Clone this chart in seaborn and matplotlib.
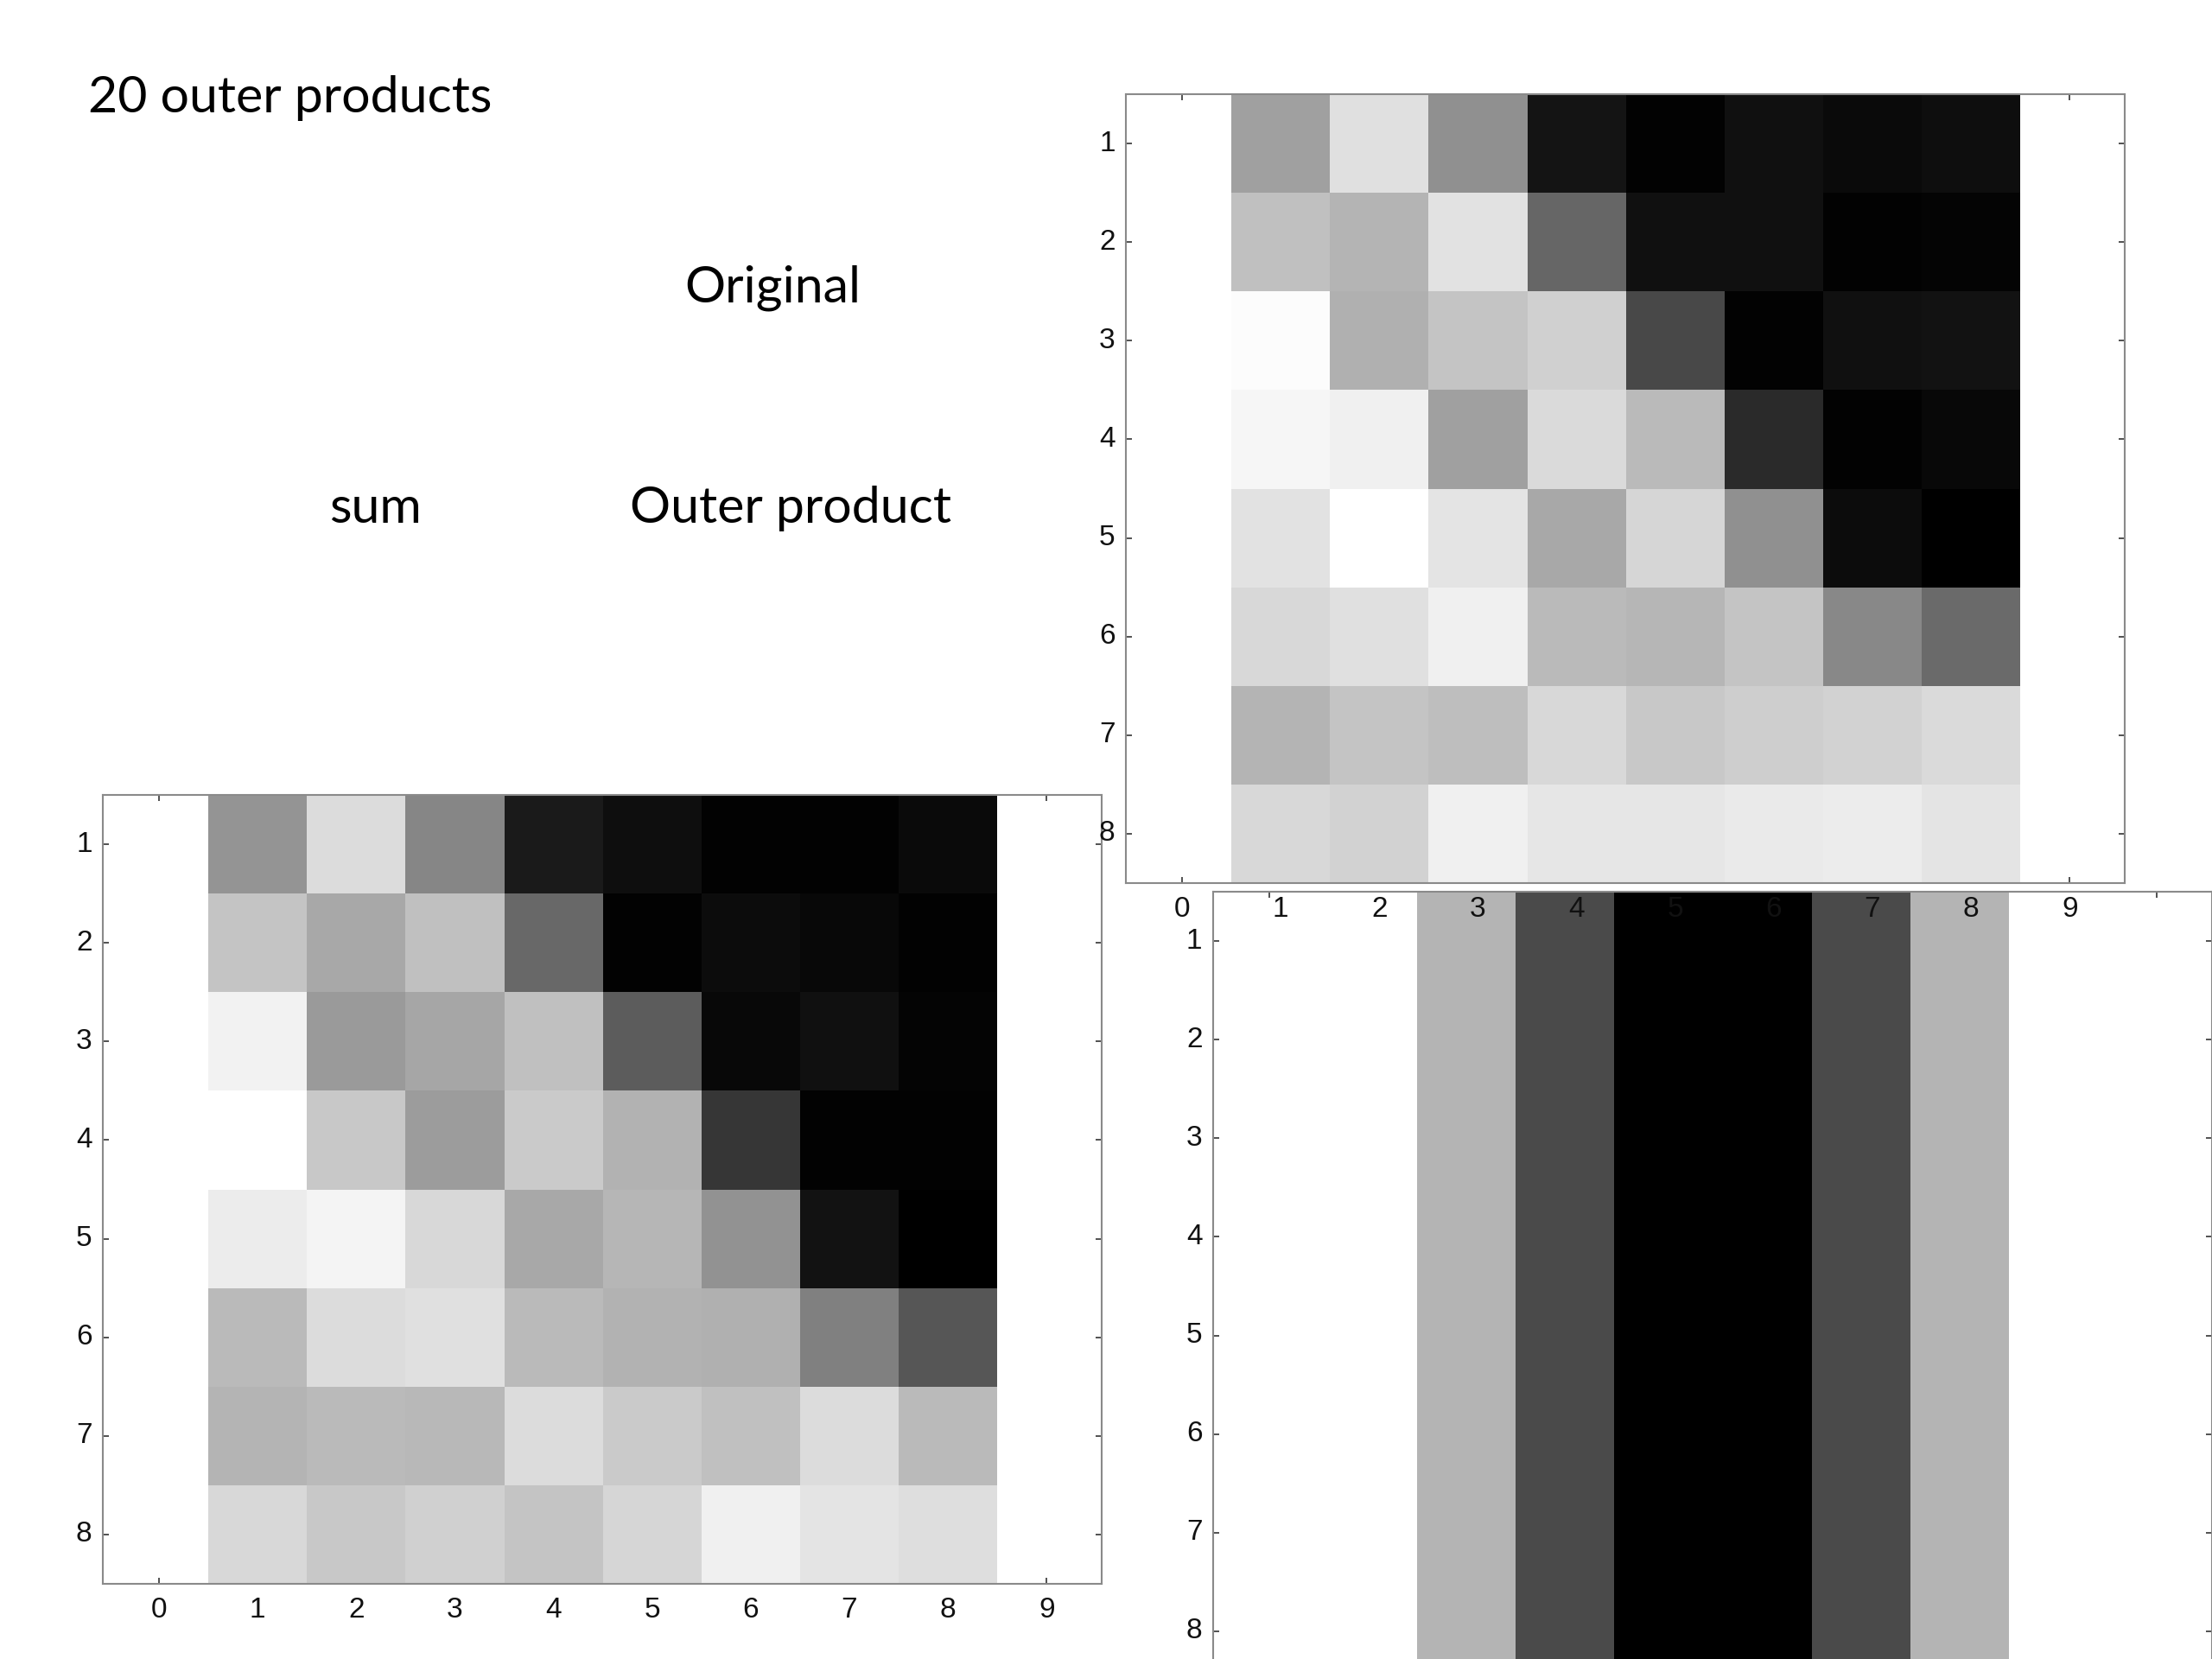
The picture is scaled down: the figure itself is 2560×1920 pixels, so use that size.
import numpy as np
import seaborn as sns
import matplotlib.pyplot as plt

# grey levels (0 = black, 255 = white), rows 1..8, cols 1..8
original = [
    [160, 224, 144, 20, 2, 16, 10, 14],
    [192, 180, 226, 102, 16, 16, 2, 4],
    [252, 176, 196, 208, 72, 2, 16, 18],
    [246, 240, 160, 218, 186, 42, 2, 8],
    [226, 255, 228, 168, 214, 144, 12, 0],
    [216, 224, 240, 186, 182, 196, 136, 106],
    [180, 196, 190, 216, 200, 206, 210, 218],
    [216, 210, 240, 230, 230, 234, 236, 228],
]
summed = [
    [148, 220, 134, 26, 14, 2, 2, 10],
    [196, 168, 192, 104, 2, 12, 8, 2],
    [242, 154, 166, 192, 92, 8, 16, 4],
    [255, 200, 156, 202, 178, 54, 2, 2],
    [236, 244, 216, 168, 182, 146, 18, 0],
    [186, 220, 224, 186, 178, 176, 128, 86],
    [180, 186, 184, 220, 202, 192, 220, 186],
    [216, 200, 208, 196, 214, 240, 228, 222],
]
# one outer product: every row the same column profile
outer_rows = [1, 1, 1, 1, 1, 1, 1, 1]
outer_cols = [255, 180, 74, 0, 0, 74, 180, 255]

x_labels = [str(k) for k in range(10)]
y_labels = [str(k) for k in range(1, 9)]

sns.set_theme(style="white")
plt.rcParams["font.family"] = ["Liberation Sans", "DejaVu Sans"]

fig = plt.figure(figsize=(25.6, 19.2), dpi=100)


def draw_panel(rect, data, xlabels=True):
    ax = fig.add_axes(rect)
    sns.heatmap(np.array(data, dtype=float), ax=ax, cmap="gray", vmin=0, vmax=255,
                cbar=False)
    for s in ax.spines.values():
        s.set_visible(True)
        s.set_color("#8a8a8a")
        s.set_linewidth(1.5)
    ax.set_xticks([k - 0.5 for k in range(10)])
    ax.set_xticklabels(x_labels, rotation=0)
    ax.set_yticks([k - 0.5 for k in range(1, 9)])
    ax.set_yticklabels(y_labels, rotation=0)
    ax.set_xlim(-1.07, 9.06)
    ax.set_ylim(8.0, 0.0)
    ax.tick_params(direction="in", top=True, right=True, bottom=True, left=True,
                   labeltop=False, labelright=False, labelbottom=xlabels,
                   length=5, width=1.2, color="#333333", labelsize=24,
                   labelcolor="#111111")
    ax.tick_params(axis="x", pad=11)
    ax.tick_params(axis="y", pad=9)
    return ax


outer = np.outer(outer_rows, outer_cols)
# bottom-right panel runs off the slide, so its x labels are not shown
ax_outer = draw_panel([0.5484, -0.0130, 0.4516, 0.4755], outer, xlabels=False)
ax_sum = draw_panel([0.0465, 0.0453, 0.4516, 0.4755], summed)
ax_orig = draw_panel([0.5090, 0.4677, 0.4516, 0.4755], original)

title_font = ["Lato", "DejaVu Sans"]
fig.text(102 / 2560, 1 - 130 / 1920, "20 outer products", fontsize=42.5,
         family=title_font, ha="left", va="baseline", color="black")
fig.text(894 / 2560, 1 - 350 / 1920, "Original", fontsize=42.5,
         family=title_font, ha="center", va="baseline", color="black")
fig.text(434 / 2560, 1 - 605 / 1920, "sum", fontsize=42.5,
         family=title_font, ha="center", va="baseline", color="black")
fig.text(915 / 2560, 1 - 605 / 1920, "Outer product", fontsize=42.5,
         family=title_font, ha="center", va="baseline", color="black")

fig.savefig("out.png", dpi=100)
